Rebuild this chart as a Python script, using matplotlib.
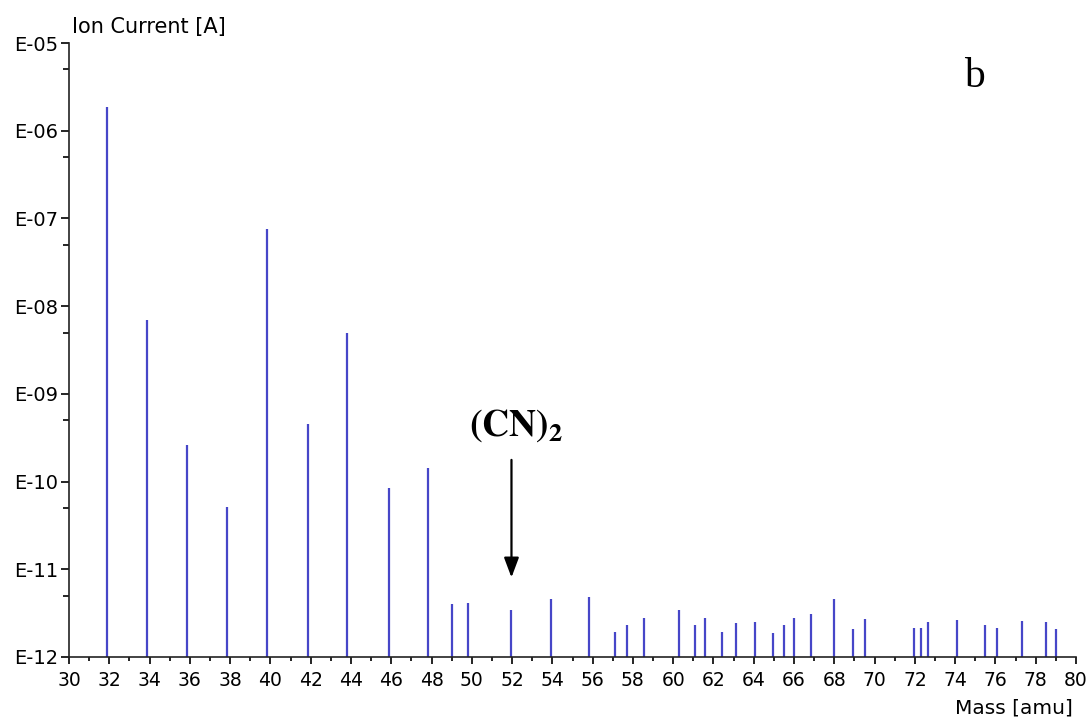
import matplotlib
matplotlib.use("Agg")
import matplotlib.pyplot as plt
from matplotlib.ticker import MultipleLocator, FixedLocator, FuncFormatter
import numpy as np

# Datos: masa (amu) y corriente ionica (A)
masas = [31.9, 33.85, 35.85, 37.85, 39.85, 41.85, 43.8, 45.9, 47.85,
         49.0, 49.8, 51.95, 53.95, 55.8, 57.1, 57.7, 58.55, 60.3, 61.1,
         61.6, 62.4, 63.1, 64.05, 64.95, 65.5, 66.0, 66.85, 68.0, 68.95,
         69.5, 71.95, 72.3, 72.65, 74.1, 75.5, 76.1, 77.3, 78.5, 79.0]
corriente = [1.86e-6, 6.95e-9, 2.6e-10, 5.1e-11, 7.6e-8, 4.5e-10, 4.9e-9,
             8.4e-11, 1.43e-10,
             4.0e-12, 4.15e-12, 3.4e-12, 4.6e-12, 4.8e-12, 1.94e-12,
             2.3e-12, 2.75e-12, 3.4e-12, 2.3e-12, 2.75e-12, 1.94e-12,
             2.42e-12, 2.48e-12, 1.86e-12, 2.3e-12, 2.75e-12, 3.08e-12,
             4.6e-12, 2.06e-12, 2.68e-12, 2.15e-12, 2.15e-12, 2.48e-12,
             2.64e-12, 2.3e-12, 2.15e-12, 2.57e-12, 2.48e-12, 2.06e-12]

x_min, x_max = 30, 80
y_min, y_max = 1e-12, 1e-5

fig = plt.figure(figsize=(10.91, 7.22), dpi=100)
ax = fig.add_axes([69 / 1091, 65 / 722, 1007 / 1091, 614 / 722])

ax.vlines(masas, y_min, corriente, color="#4646c8", lw=1.6)

ax.set_yscale("log")
ax.set_xlim(x_min, x_max)
ax.set_ylim(y_min, y_max)

# ejes
for s in ["top", "right"]:
    ax.spines[s].set_visible(False)
for s in ["left", "bottom"]:
    ax.spines[s].set_linewidth(1.2)
    ax.spines[s].set_color("#222222")

ax.xaxis.set_major_locator(MultipleLocator(2))
ax.xaxis.set_minor_locator(MultipleLocator(1))
ax.yaxis.set_major_locator(FixedLocator([10.0 ** k for k in range(-12, -4)]))
ax.yaxis.set_minor_locator(FixedLocator([5 * 10.0 ** k for k in range(-12, -5)]))
ax.yaxis.set_major_formatter(FuncFormatter(lambda v, p: "E-%02d" % round(-np.log10(v))))
ax.yaxis.set_minor_formatter(FuncFormatter(lambda v, p: ""))

ax.tick_params(axis="x", which="major", length=5, width=1.2, pad=5, labelsize=13.5)
ax.tick_params(axis="x", which="minor", length=3, width=1.2)
ax.tick_params(axis="y", which="major", length=6, width=1.2, pad=2, labelsize=14)
ax.tick_params(axis="y", which="minor", length=4, width=1.2)

# textos
fig.text(72 / 1091, 1 - 27 / 722, "Ion Current [A]", ha="left", va="center", fontsize=15)
fig.text(1073 / 1091, 1 - 708 / 722, "Mass [amu]", ha="right", va="center", fontsize=14.5)
fig.text(974 / 1091, 1 - 77 / 722, "b", ha="center", va="center", fontsize=30,
         family="Liberation Serif")

# flecha (CN)2
ax.annotate("", xy=(51.97, 7.5e-12), xytext=(51.97, 1.9e-10),
            arrowprops=dict(arrowstyle="-|>,head_length=1.2,head_width=0.45",
                            color="black", lw=1.6))
ax.text(52.2, 4.4e-10, r"$\mathbf{(CN)_2}$", ha="center", va="center", fontsize=27,
        math_fontfamily="stix")

fig.savefig("out.png", dpi=100)
